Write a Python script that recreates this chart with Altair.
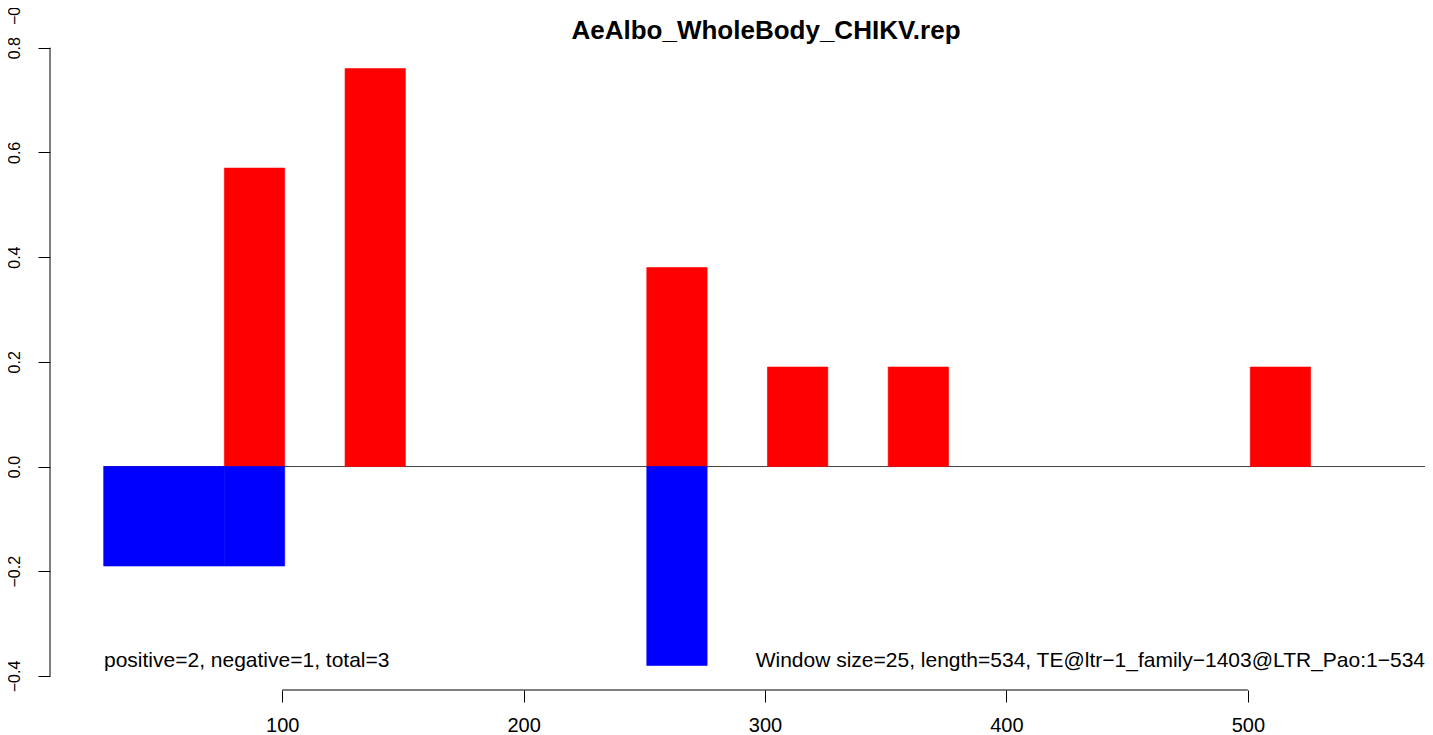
import altair as alt
import pandas as pd

# ---- data ----
WINDOW = 25
pos_starts = [76, 126, 251, 301, 351, 501]
pos_values = [0.57, 0.76, 0.38, 0.19, 0.19, 0.19]
neg_starts = [26, 51, 76, 251]
neg_values = [-0.19, -0.19, -0.19, -0.38]
x_ticks = [100, 200, 300, 400, 500]
y_ticks = [-0.4, -0.2, 0.0, 0.2, 0.4, 0.6, 0.8]
zero_line_start = 26
title_text = "AeAlbo_WholeBody_CHIKV.rep"
left_note = "positive=2, negative=1, total=3"
right_note = "Window size=25, length=534, TE@ltr\u22121_family\u22121403@LTR_Pao:1\u2212534"
upper_panel_label = "\u22120.4"

X_DOMAIN = [3.77, 573.4]
Y_DOMAIN = [-0.4268, 0.807]
FONT = "Liberation Sans"
PLOT_W = 1375
PLOT_H = 646

bars = pd.DataFrame({
    "start": pos_starts + neg_starts,
    "value": pos_values + neg_values,
    "sign": ["pos"] * len(pos_starts) + ["neg"] * len(neg_starts),
})
bars["end"] = bars["start"] + WINDOW

xs = alt.Scale(domain=X_DOMAIN, nice=False, zero=False)
ys = alt.Scale(domain=Y_DOMAIN, nice=False, zero=False)
cs = alt.Scale(domain=["pos", "neg"], range=["#ff0000", "#0000ff"])

zero_df = pd.DataFrame({"x0": [zero_line_start], "x1": [X_DOMAIN[1]], "y": [0.0]})
yaxis_df = pd.DataFrame({"y0": [y_ticks[0]], "y1": [y_ticks[-1]]})
xaxis_df = pd.DataFrame({"x0": [x_ticks[0]], "x1": [x_ticks[-1]]})

zero_line = alt.Chart(zero_df).mark_rule(color="#444444", strokeWidth=1).encode(
    x=alt.X("x0:Q", scale=xs, title=None),
    x2="x1:Q",
    y=alt.Y("y:Q", scale=ys, title=None),
)

bar_layer = alt.Chart(bars).mark_rect(strokeWidth=0.6).encode(
    x=alt.X("start:Q", scale=xs, title=None,
            axis=alt.Axis(values=x_ticks, format="d")),
    x2="end:Q",
    y=alt.Y("value:Q", scale=ys, title=None,
            axis=alt.Axis(values=y_ticks, format=".1f")),
    y2=alt.datum(0),
    color=alt.Color("sign:N", scale=cs, legend=None),
    stroke=alt.Stroke("sign:N", scale=cs, legend=None),
)

y_axis_line = alt.Chart(yaxis_df).mark_rule(color="black", strokeWidth=1).encode(
    x=alt.value(0),
    y=alt.Y("y0:Q", scale=ys, title=None),
    y2="y1:Q",
)

x_axis_line = alt.Chart(xaxis_df).mark_rule(color="black", strokeWidth=1).encode(
    x=alt.X("x0:Q", scale=xs, title=None),
    x2="x1:Q",
    y=alt.value(PLOT_H),
)

title_layer = alt.Chart(pd.DataFrame({"t": [title_text]})).mark_text(
    font=FONT, fontSize=26, fontWeight="bold", align="center",
    baseline="alphabetic", color="black"
).encode(text="t:N", x=alt.value(716), y=alt.value(-5))

left_layer = alt.Chart(pd.DataFrame({"t": [left_note]})).mark_text(
    font=FONT, fontSize=21, align="left", baseline="alphabetic", color="black"
).encode(text="t:N", x=alt.value(54), y=alt.value(623))

right_layer = alt.Chart(pd.DataFrame({"t": [right_note]})).mark_text(
    font=FONT, fontSize=21, align="right", baseline="alphabetic", color="black"
).encode(text="t:N", x=alt.value(PLOT_W), y=alt.value(623))

upper_layer = alt.Chart(pd.DataFrame({"t": [upper_panel_label]})).mark_text(
    font=FONT, fontSize=16, align="left", baseline="alphabetic", color="black",
    angle=270
).encode(text="t:N", x=alt.value(-30.5), y=alt.value(-19))

chart = alt.layer(
    zero_line, bar_layer, y_axis_line, x_axis_line,
    title_layer, left_layer, right_layer, upper_layer
).properties(
    width=PLOT_W, height=PLOT_H,
    padding={"left": 42, "top": 36, "right": 0, "bottom": 44},
    autosize=alt.AutoSizeParams(type="none"),
    background="white",
).configure_view(stroke=None).configure_axisX(
    domain=False, grid=False, tickSize=12, tickColor="black", tickWidth=1,
    labelFont=FONT, labelFontSize=20, labelColor="black", labelPadding=13,
    labelFlush=False, labelOverlap=False,
).configure_axisY(
    domain=False, grid=False, tickSize=12, tickColor="black", tickWidth=1,
    labelFont=FONT, labelFontSize=16, labelColor="black", labelPadding=18.5,
    labelAngle=270, labelAlign="center", labelBaseline="alphabetic",
    labelFlush=False, labelOverlap=False,
)

chart.save("out.html", embed_options={"renderer": "svg", "actions": False})
